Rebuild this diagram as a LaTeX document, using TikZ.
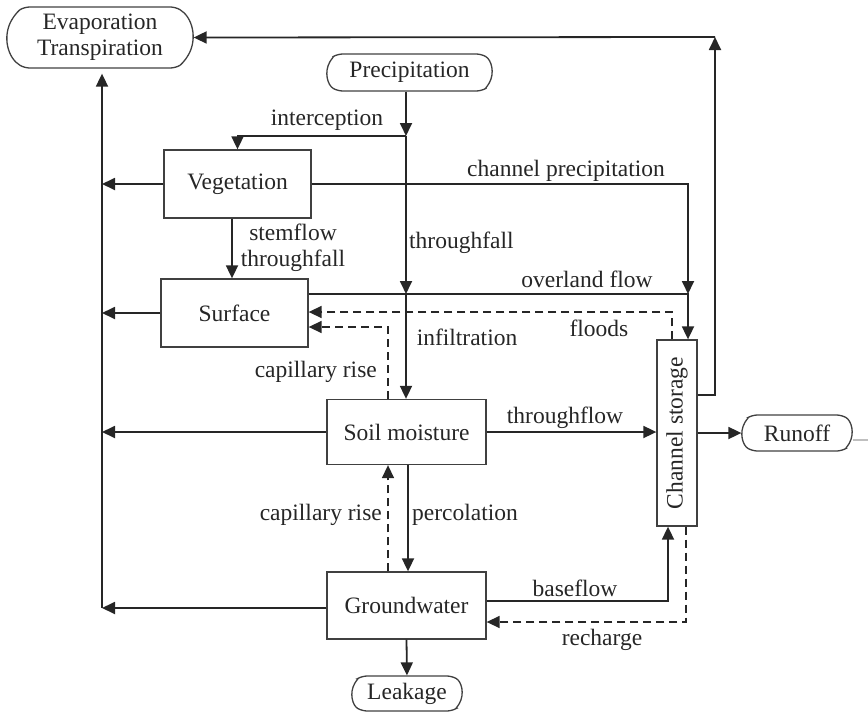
\documentclass[tikz,border=0pt]{standalone}
\usepackage{fontspec}
\setmainfont{Liberation Serif}
\usetikzlibrary{arrows.meta,shapes.misc,calc}
\begin{document}
\begin{tikzpicture}[x=1pt,y=-1pt,
  font=\fontsize{23.5}{26}\selectfont,
  box/.style={draw=black!75,line width=1.3pt,rectangle,inner sep=0pt,text=black!85},
  term/.style={draw=black!75,line width=1.3pt,rounded rectangle,rounded rectangle arc length=120,rounded corners=5pt,inner sep=0pt,text=black!85},
  flow/.style={draw=black!85,line width=1.8pt,-{Triangle[length=13pt,width=12pt]}},
  dflow/.style={flow,line width=1.5pt,dash pattern=on 8pt off 5pt},
  lab/.style={inner sep=0pt,text=black!85}]
\useasboundingbox (0,0) rectangle (868,712);
% nodes
\node[term,minimum width=186pt,minimum height=61pt,align=center] (evap) at (100,37.5) {Evaporation\\Transpiration};
\node[term,minimum width=165pt,minimum height=37pt] (precip) at (409.5,72.5) {Precipitation};
\node[box,minimum width=147pt,minimum height=68pt] (veg) at (237.5,184) {Vegetation};
\node[box,minimum width=147pt,minimum height=68pt] (surf) at (234.5,313) {Surface};
\node[box,minimum width=159pt,minimum height=65pt] (soil) at (406.5,432) {Soil moisture};
\node[box,minimum width=159pt,minimum height=67pt] (gw) at (406.5,605.5) {Groundwater};
\node[box,minimum width=40pt,minimum height=186pt] (cs) at (677,433) {\rotatebox{90}{Channel storage}};
\node[term,minimum width=110pt,minimum height=36pt] (runoff) at (797,433) {Runoff};
\node[term,minimum width=110pt,minimum height=35pt] (leak) at (407,693.5) {Leakage};
% helper coordinates
\coordinate (L) at (102,0);
\coordinate (j1) at (406,136);
\coordinate (j2) at (406,294);
\coordinate (j3) at (688,294);
\coordinate (fl) at (672,312);
\coordinate (cu) at (388,327);
\coordinate (sx) at (232,0);
\coordinate (ev) at (715,37);
\coordinate (evs) at (715,395);
\coordinate (px) at (408,0);
\coordinate (cl) at (388,0);
\coordinate (bf) at (668,601);
\coordinate (rc) at (686,622);
\coordinate (gy) at (0,608);
\coordinate (gl) at (0,440);
\coordinate (edge) at (868,440);
% precipitation paths
\draw[flow] (j1 |- precip.south) -- (j1);
\draw[flow] (j1) -| (veg.north);
\draw[flow] (j1) -- (j2);
\draw[flow] (j2) -- (j2 |- soil.north);
% evaporation
\draw[flow] (veg.west) -- (veg.west -| L);
\draw[flow] (surf.west) -- (surf.west -| L);
\draw[flow] (soil.west) -- (soil.west -| L);
\draw[flow] (gw.west |- gy) -- (L |- gy);
\draw[flow,shorten >=5pt] (L |- gy) -- (evap.south -| L);
% vegetation
\draw[flow] (veg.east) -| (j3);
\draw[flow] (veg.south -| sx) -- (surf.north -| sx);
% surface
\draw[flow] (surf.east |- j2) -- (j3) -- (j3 |- cs.north);
\draw[dflow] (fl |- cs.north) -- (fl) -- (surf.east |- fl);
\draw[dflow] (cu |- soil.north) -- (cu) -- (surf.east |- cu);
% soil
\draw[flow] (soil.east) -- (soil.east -| cs.west);
\draw[flow] (soil.south -| px) -- (gw.north -| px);
\draw[dflow] (gw.north -| cl) -- (soil.south -| cl);
% channel storage
\draw[flow] (cs.east |- evs) -- (evs) -- (ev);
\draw[flow] (ev) -- (evap.east);
\draw[flow] (cs.east) -- (runoff.west);
\draw[draw=black!25,line width=1.5pt] (runoff.east |- gl) -- (edge);
% groundwater
\draw[flow] (gw.east |- bf) -- (bf) -- (bf |- cs.south);
\draw[dflow] (rc |- cs.south) -- (rc) -- (gw.east |- rc);
\draw[flow] (gw.south) -- (leak.north);
% labels
\node[lab] (l1) at (327,120) {interception};
\node[lab] (l2) at (566,171) {channel precipitation};
\node[lab,anchor=west] (l3) at (409,243) {throughfall};
\node[lab,align=center] (l4) at (293,248) {stemflow\\throughfall};
\node[lab] (l5) at (587,279) {overland flow};
\node[lab] (l6) at (599,328) {floods};
\node[lab] (l7) at (467,337) {infiltration};
\node[lab,anchor=east] (l8) at (377,372) {capillary rise};
\node[lab] (l9) at (565,418) {throughflow};
\node[lab,anchor=east] (l10) at (382,515) {capillary rise};
\node[lab,anchor=west] (l11) at (412,515) {percolation};
\node[lab] (l12) at (575,588) {baseflow};
\node[lab] (l13) at (602,640) {recharge};
\end{tikzpicture}
\end{document}
